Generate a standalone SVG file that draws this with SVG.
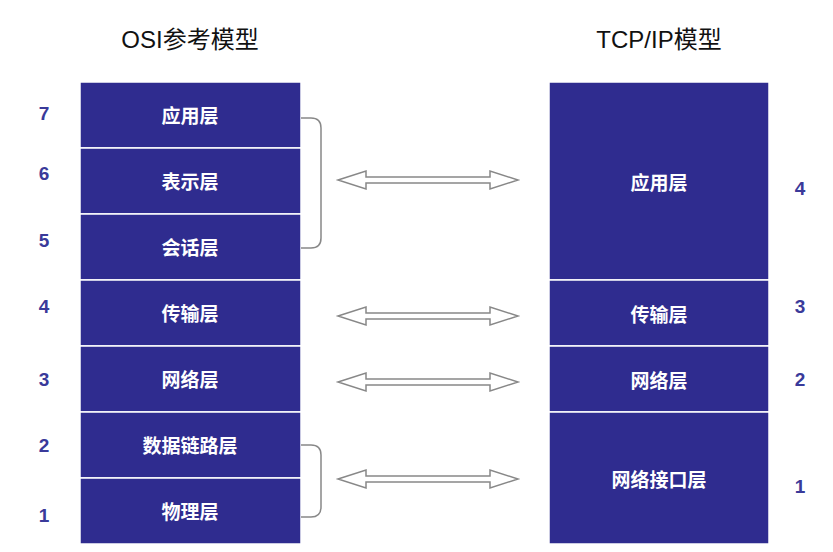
<svg xmlns="http://www.w3.org/2000/svg" width="833" height="552" viewBox="0 0 833 552">
<style>
.c{fill:#2f2c8f;stroke:#fff;stroke-width:1.5}
.t{font-family:"Noto Sans CJK SC","Liberation Sans",sans-serif;font-size:19px;fill:#fff;text-anchor:middle;font-weight:bold}
.n{font-family:"Liberation Sans",sans-serif;font-size:19px;fill:#3a3a9a;text-anchor:middle;font-weight:bold}
.h{font-family:"Liberation Sans","Noto Sans CJK SC",sans-serif;font-size:24px;fill:#111;text-anchor:middle}
.b{fill:none;stroke:#888;stroke-width:1.5}
.a{fill:#fff;stroke:#888;stroke-width:1.5}
</style>
<defs><path id="arr" d="M338,0 L366,-9 L366,-3 L490,-3 L490,-9 L518,0 L490,9 L490,3 L366,3 L366,9 Z"/></defs>
<text class="h" x="190" y="48">OSI参考模型</text>
<text class="h" x="659" y="48">TCP/IP模型</text>
<g id="osi">
<g id="o7"><rect class="c" x="80" y="82" width="221" height="66"/><text class="t" x="190" y="123">应用层</text><text class="n" x="44" y="120">7</text></g>
<g id="o6"><rect class="c" x="80" y="148" width="221" height="66"/><text class="t" x="190" y="189">表示层</text><text class="n" x="44" y="180">6</text></g>
<g id="o5"><rect class="c" x="80" y="214" width="221" height="66"/><text class="t" x="190" y="255">会话层</text><text class="n" x="44" y="247">5</text></g>
<g id="o4"><rect class="c" x="80" y="280" width="221" height="66"/><text class="t" x="190" y="321">传输层</text><text class="n" x="44" y="313">4</text></g>
<g id="o3"><rect class="c" x="80" y="346" width="221" height="66"/><text class="t" x="190" y="387">网络层</text><text class="n" x="44" y="386">3</text></g>
<g id="o2"><rect class="c" x="80" y="412" width="221" height="66"/><text class="t" x="190" y="453">数据链路层</text><text class="n" x="44" y="452">2</text></g>
<g id="o1"><rect class="c" x="80" y="478" width="221" height="66"/><text class="t" x="190" y="519">物理层</text><text class="n" x="44" y="522">1</text></g>
</g>
<g id="tcp">
<g id="t4"><rect class="c" x="549" y="82" width="220" height="198"/><text class="t" x="659" y="190">应用层</text><text class="n" x="800" y="195">4</text></g>
<g id="t3"><rect class="c" x="549" y="280" width="220" height="66"/><text class="t" x="659" y="322">传输层</text><text class="n" x="800" y="313">3</text></g>
<g id="t2"><rect class="c" x="549" y="346" width="220" height="66"/><text class="t" x="659" y="388">网络层</text><text class="n" x="800" y="386">2</text></g>
<g id="t1"><rect class="c" x="549" y="412" width="220" height="132"/><text class="t" x="659" y="487">网络接口层</text><text class="n" x="800" y="493">1</text></g>
</g>
<g id="connectors">
<path class="b" d="M301,118 H311 Q321,118 321,128 V238 Q321,248 311,248 H301"/>
<path class="b" d="M301,445 H311 Q321,445 321,455 V507 Q321,517 311,517 H301"/>
<use href="#arr" class="a" y="180"/>
<use href="#arr" class="a" y="316"/>
<use href="#arr" class="a" y="382"/>
<use href="#arr" class="a" y="479"/>
</g>
</svg>
